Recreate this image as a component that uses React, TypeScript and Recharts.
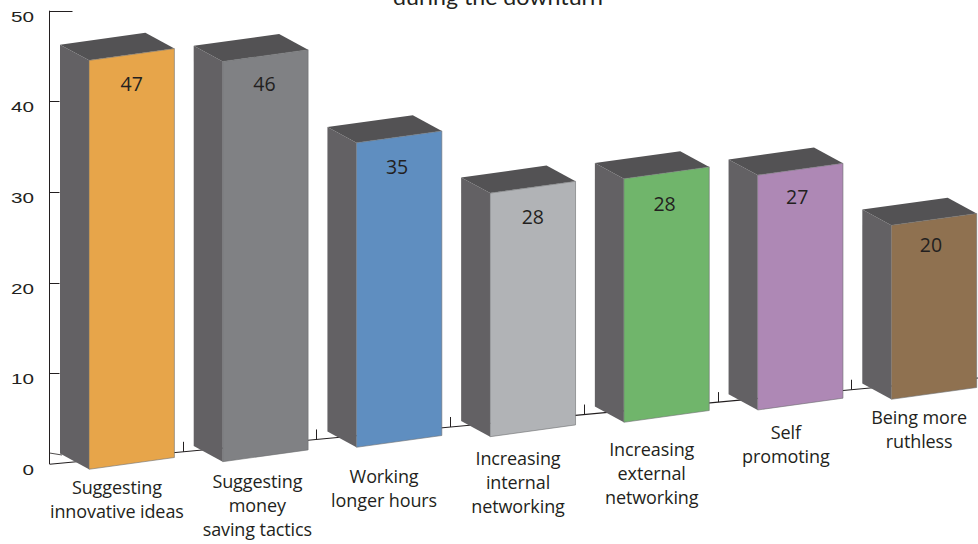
import { Bar, Cell, ComposedChart, Line, XAxis, YAxis } from "recharts";

const categories = [
  "Suggesting innovative ideas",
  "Suggesting money saving tactics",
  "Working longer hours",
  "Increasing internal networking",
  "Increasing external networking",
  "Self promoting",
  "Being more ruthless",
];
const categoryLines = [
  ["Suggesting", "innovative ideas"],
  ["Suggesting", "money", "saving tactics"],
  ["Working", "longer hours"],
  ["Increasing", "internal", "networking"],
  ["Increasing", "external", "networking"],
  ["Self", "promoting"],
  ["Being more", "ruthless"],
];
const values = [47, 46, 35, 28, 28, 27, 20];
const barColors = ["#e7a54a", "#808184", "#5f8ec0", "#b1b3b6", "#70b56b", "#ae88b5", "#8f7150"];
const axisTicks = [0, 10, 20, 30, 40, 50];

const data = categories.map((name, i) => ({ name, value: values[i] }));

// box projection
const DEPTH_X = 29;
const DEPTH_Y = 15.7;
const FRONT_RISE = 11.8;
const SIDE_COLOR = "#636164";
const TOP_COLOR = "#535254";
const INK = "#231f20";

// the boxes stand on a receding floor, so each one sits a little off the plot baseline
const floorShift = [5.3, -2.3, -16.7, -27.3, -41.7, -54, -64.7];
const labelShiftX = [0, 6.8, -0.2, 0, 0, 0.4, 0];
const labelTop = [487, 481, 476, 458.3, 449.3, 431.7, 416.7];
const valueNudgeX = [0, -1, -2, 0, -2, -3, -3];
const valueNudgeY = [0, -1, 1, 0, 2, -2, -4];

const PLOT_LEFT = 50;
const PLOT_TOP = 10.7;
const PLOT_BOTTOM = 464;
const AXIS_X = PLOT_LEFT - 0.5; // keeps the 1px axis on one pixel column
const floorY = (x: number) => PLOT_BOTTOM + 0.2 - 0.0929 * (x - PLOT_LEFT);

function Box3D(props: any) {
  const { x, y, width, height, index, value, fill } = props;
  const shift = floorShift[index];
  const left = x + DEPTH_X;
  const right = x + width;
  const top = y + shift;
  const bottom = y + height + shift;
  const poly = (pts: number[][]) => pts.map((p) => p.join(",")).join(" ");
  return (
    <g>
      <polygon
        points={poly([
          [x, top - DEPTH_Y],
          [left, top],
          [left, bottom],
          [x, bottom - DEPTH_Y],
        ])}
        fill={SIDE_COLOR}
      />
      <polygon
        points={poly([
          [x, top - DEPTH_Y],
          [right - DEPTH_X, top - DEPTH_Y - FRONT_RISE],
          [right, top - FRONT_RISE],
          [left, top],
        ])}
        fill={TOP_COLOR}
      />
      <polygon
        points={poly([
          [left, top],
          [right, top - FRONT_RISE],
          [right, bottom - FRONT_RISE],
          [left, bottom],
        ])}
        fill={fill}
        stroke="#6d6e71"
        strokeWidth={0.6}
      />
      <text
        x={(left + right) / 2 + valueNudgeX[index]}
        y={top - FRONT_RISE / 2 + 29 + valueNudgeY[index]}
        textAnchor="middle"
        dominantBaseline="central"
        fontFamily="Open Sans"
        fontSize={19.5}
        fill={INK}
      >
        {value}
      </text>
    </g>
  );
}

function CategoryTick(props: any) {
  const { x, index, width } = props;
  // tick marks sit on the band boundaries, along the floor line
  const step = width / categories.length;
  const tickX = Math.round(x + step / 2) - 0.5;
  const lines = categoryLines[index];
  return (
    <g>
      <line x1={tickX} x2={tickX} y1={floorY(tickX)} y2={floorY(tickX) - 10} stroke={INK} strokeWidth={1} />
      {lines.map((line, i) => (
        <text
          key={line}
          x={x + labelShiftX[index]}
          y={labelTop[index] + i * 24}
          textAnchor="middle"
          dominantBaseline="central"
          fontFamily="Open Sans"
          fontSize={18}
          letterSpacing={-0.1}
          fill={INK}
        >
          {line}
        </text>
      ))}
    </g>
  );
}

function ValueTick(props: any) {
  const { y, payload } = props;
  const label = String(payload.value);
  const lineY = Math.round(y) + 0.5;
  // the top stub runs clear of the first box, the others stop at its side
  const stub = payload.value === 50 ? 23 : 10;
  return (
    <g>
      {payload.value > 0 && <line x1={AXIS_X} x2={AXIS_X + stub} y1={lineY} y2={lineY} stroke={INK} strokeWidth={1} />}
      <text
        x={34}
        y={y + 5.5}
        textAnchor="end"
        dominantBaseline="central"
        fontFamily="Liberation Sans"
        fontSize={15}
        textLength={label.length * 11.5}
        lengthAdjust="spacingAndGlyphs"
        fill={INK}
      >
        {label}
      </text>
    </g>
  );
}

export default function App() {
  return (
    <div style={{ position: "absolute", left: 0, top: 0, width: 978, height: 544, overflow: "hidden", background: "#fff" }}>
      <ComposedChart
        width={986}
        height={544}
        data={data}
        margin={{ top: PLOT_TOP, right: 0, bottom: 0, left: 0 }}
        barCategoryGap={0}
      >
        <text
          x={498}
          y={5}
          textAnchor="middle"
          fontFamily="Lato"
          fontSize={22}
          textLength={210}
          lengthAdjust="spacingAndGlyphs"
          fill={INK}
        >
          during the downturn
        </text>
        <line x1={AXIS_X} y1={PLOT_TOP} x2={AXIS_X} y2={PLOT_BOTTOM} stroke={INK} strokeWidth={1} />
        <line x1={AXIS_X} y1={floorY(PLOT_LEFT)} x2={978} y2={floorY(978)} stroke={INK} strokeWidth={1.1} />
        <line x1={AXIS_X} y1={453} x2={62} y2={455} stroke={INK} strokeWidth={0.8} />
        <XAxis
          dataKey="name"
          axisLine={false}
          tickLine={false}
          interval={0}
          height={80}
          tick={<CategoryTick />}
        />
        <YAxis
          yAxisId="scale"
          domain={[0, 50]}
          ticks={axisTicks}
          width={PLOT_LEFT}
          tickLine={false}
          axisLine={false}
          tick={<ValueTick />}
        />
        <YAxis yAxisId="boxes" hide domain={[0, 52.1]} />
        {/* no stroke: only ties the printed scale to the chart's data */}
        <Line yAxisId="scale" dataKey="value" stroke="none" dot={false} legendType="none" isAnimationActive={false} />
        <Bar yAxisId="boxes" dataKey="value" barSize={114.4} shape={<Box3D />} isAnimationActive={false}>
          {data.map((d, i) => (
            <Cell key={d.name} fill={barColors[i]} />
          ))}
        </Bar>
      </ComposedChart>
    </div>
  );
}
